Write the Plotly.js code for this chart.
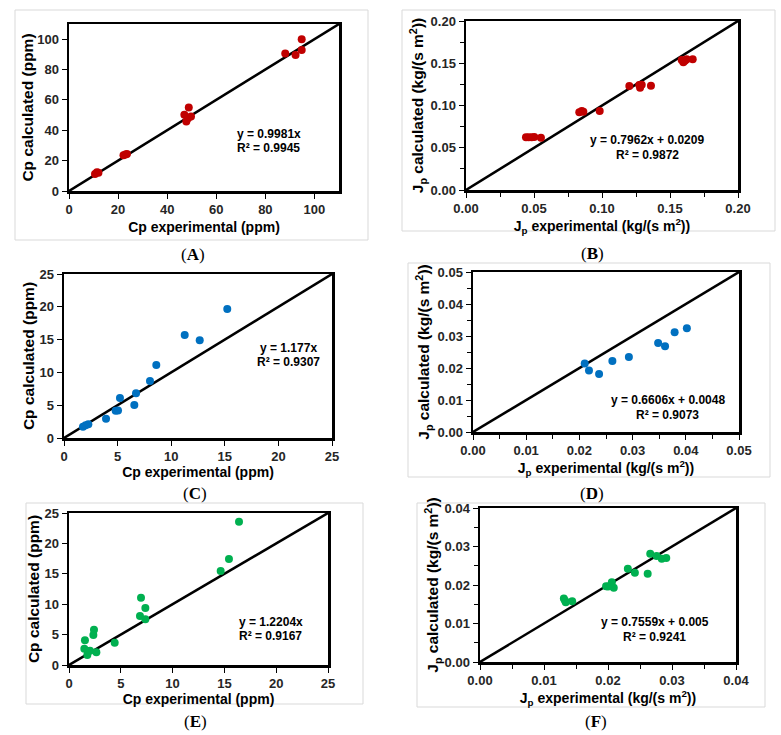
<!DOCTYPE html>
<html>
<head>
<meta charset="utf-8">
<script src="https://cdn.plot.ly/plotly-3.0.1.min.js"></script>
<style>html,body{margin:0;padding:0;background:#fff;}#chart{width:781px;height:735px;}</style>
</head>
<body>
<div id="chart"></div>
<script>
// Panel A: Cp (ppm), red
const aExp = [10.6, 11.4, 12.0, 22.2, 23.0, 23.6, 47.0, 47.8, 48.5, 48.8, 49.7, 88.1, 92.3, 94.8, 94.8];
const aCal = [11.2, 12.3, 12.0, 23.6, 24.0, 24.4, 50.2, 45.8, 48.0, 55.0, 49.1, 90.6, 89.5, 92.8, 100.0];
// Panel B: Jp (kg/(s m2)), red
const bExp = [0.0441, 0.0461, 0.0483, 0.0502, 0.0551, 0.0833, 0.0851, 0.0863, 0.0983, 0.1201, 0.1274, 0.1280, 0.1292, 0.1360, 0.1586, 0.1598, 0.1610, 0.1623, 0.1667];
const bCal = [0.0623, 0.0623, 0.0625, 0.0627, 0.0619, 0.0919, 0.0935, 0.0927, 0.0935, 0.1231, 0.1243, 0.1210, 0.1245, 0.1234, 0.1538, 0.1511, 0.1530, 0.1547, 0.1547];
// Panel C: Cp (ppm), blue
const cExp = [1.77, 2.02, 2.27, 3.92, 4.82, 5.04, 5.22, 6.56, 6.72, 8.02, 8.61, 11.26, 12.66, 15.23];
const cCal = [1.72, 1.93, 2.08, 2.95, 4.16, 4.20, 6.10, 5.03, 6.81, 8.69, 11.13, 15.70, 14.89, 19.66];
// Panel D: Jp (kg/(s m2)), blue
const dExp = [0.0210, 0.0218, 0.0237, 0.0262, 0.0293, 0.0348, 0.0361, 0.0379, 0.0402];
const dCal = [0.0214, 0.0192, 0.0181, 0.0222, 0.0234, 0.0278, 0.0268, 0.0312, 0.0324];
// Panel E: Cp (ppm), green
const eExp = [1.54, 1.48, 1.83, 1.77, 2.03, 2.41, 2.35, 2.64, 4.41, 6.95, 7.37, 6.85, 7.37, 14.64, 15.44, 16.41];
const eCal = [4.06, 2.69, 2.30, 1.64, 2.36, 5.81, 4.93, 2.08, 3.67, 11.07, 9.37, 8.06, 7.51, 15.46, 17.43, 23.57];
// Panel F: Jp (kg/(s m2)), green
const fExp = [0.0131, 0.0133, 0.0134, 0.0144, 0.0197, 0.0200, 0.0206, 0.0209, 0.0231, 0.0242, 0.0262, 0.0266, 0.0276, 0.0284, 0.0291];
const fCal = [0.0165, 0.0159, 0.0155, 0.0158, 0.0197, 0.0196, 0.0207, 0.0193, 0.0242, 0.0232, 0.0229, 0.0281, 0.0275, 0.0268, 0.0270];

const axisMax = [110, 0.20, 25, 0.05, 25, 0.04];
const equations = ["y = 0.9981x", "y = 0.7962x + 0.0209", "y = 1.177x", "y = 0.6606x + 0.0048", "y = 1.2204x", "y = 0.7559x + 0.005"];
const r2Text = ["R² = 0.9945", "R² = 0.9872", "R² = 0.9307", "R² = 0.9073", "R² = 0.9167", "R² = 0.9241"];
const panelLabels = ["A", "B", "C", "D", "E", "F"];
const cpX = "Cp experimental (ppm)", cpY = "Cp calculated (ppm)";
const jpX = "J<sub>p</sub> experimental (kg/(s m<sup>2</sup>))", jpY = "J<sub>p</sub> calculated (kg/(s m<sup>2</sup>))";

const RED = "#C00000", BLUE = "#0070C0", GREEN = "#00B050";
const W = 781, H = 735;
const FONT = "Liberation Sans, Arial, sans-serif";

// plot-area boxes in pixels [left, right, top, bottom]
const boxes = [
  [69, 339, 24, 191],
  [466, 738, 21, 190],
  [64, 332, 274, 438],
  [473, 739, 272, 432],
  [69, 328, 513, 665],
  [480, 736, 508, 662]
];
const panels = [
  {x: aExp, y: aCal, c: RED, dt: 20, minor: null, fmt: "", xt: cpX, yt: cpY},
  {x: bExp, y: bCal, c: RED, dt: 0.05, minor: 0.025, fmt: ".2f", xt: jpX, yt: jpY},
  {x: cExp, y: cCal, c: BLUE, dt: 5, minor: null, fmt: "", xt: cpX, yt: cpY},
  {x: dExp, y: dCal, c: BLUE, dt: 0.01, minor: 0.005, fmt: ".2f", xt: jpX, yt: jpY},
  {x: eExp, y: eCal, c: GREEN, dt: 5, minor: null, fmt: "", xt: cpX, yt: cpY},
  {x: fExp, y: fCal, c: GREEN, dt: 0.01, minor: 0.005, fmt: ".2f", xt: jpX, yt: jpY}
];
// equation anchor positions (data units) and alignment
const eqPos = [
  {x: 67.8, y1: 37.5, y2: 28.3, a: "left"},
  {x: 0.1331, y1: 0.0592, y2: 0.0414, a: "center"},
  {x: 20.9, y1: 13.72, y2: 11.59, a: "center"},
  {x: 0.03665, y1: 0.0100, y2: 0.0053, a: "center"},
  {x: 16.19, y1: 7.07, y2: 4.77, a: "left"},
  {x: 0.02734, y1: 0.01039, y2: 0.0065, a: "center"}
];
const xStand = [6, 0, 2, 5, 1, 3];
const yStand = [0, 3, 1, 4, 1, 2];
const labelPos = [[193, 255], [592, 253], [195, 493], [592, 493], [195, 721], [596, 721]];
const chartBorders = [
  [15, 368, 10, 240], [402, 775, 10, 231], null, [408, 770, 263, 477], [26, 363, 503, 704], [417, 765, 503, 707]
];

const data = [];
const layout = {
  width: W, height: H,
  margin: {l: 0, r: 0, t: 0, b: 0},
  paper_bgcolor: "#fff", plot_bgcolor: "#fff",
  showlegend: false,
  font: {family: FONT, color: "#000"},
  annotations: [], shapes: []
};

panels.forEach((p, i) => {
  const n = i === 0 ? "" : String(i + 1);
  const xa = "x" + n, ya = "y" + n;
  const m = axisMax[i];
  data.push({x: [0, m], y: [0, m], xaxis: xa, yaxis: ya, mode: "lines",
    line: {color: "#000", width: 2.5}, hoverinfo: "skip"});
  data.push({x: p.x, y: p.y, xaxis: xa, yaxis: ya, mode: "markers",
    marker: {color: p.c, size: 8}});
  const b = boxes[i];
  const common = {
    range: [0, m], dtick: p.dt, tick0: 0, showgrid: false, zeroline: false,
    showline: true, linecolor: "#000", linewidth: 2.5, mirror: true,
    ticks: "outside", ticklen: 5, tickwidth: 1, tickcolor: "#000",
    tickfont: {family: FONT, size: 13, weight: 700, color: "#262626"},
    tickformat: p.fmt, fixedrange: true
  };
  if (p.minor) common.minor = {dtick: p.minor, tick0: 0, ticks: "outside", ticklen: 4, tickcolor: "#000", tickwidth: 1, showgrid: false};
  layout["xaxis" + n] = Object.assign({}, common, {
    domain: [b[0] / W, b[1] / W], anchor: ya,
    title: {text: p.xt, font: {family: FONT, size: 14, weight: 700, color: "#000"}, standoff: xStand[i]}
  });
  layout["yaxis" + n] = Object.assign({}, common, {
    domain: [1 - b[3] / H, 1 - b[2] / H], anchor: xa,
    title: {text: p.yt, font: {family: FONT, size: 15.5, weight: 700, color: "#000"}, standoff: yStand[i]}
  });
  const e = eqPos[i];
  layout.annotations.push({xref: xa, yref: ya, x: e.x, y: e.y1, text: equations[i], showarrow: false,
    xanchor: e.a, yanchor: "middle", font: {family: FONT, size: 12, weight: 700, color: "#000"}});
  layout.annotations.push({xref: xa, yref: ya, x: e.x, y: e.y2, text: r2Text[i], showarrow: false,
    xanchor: e.a, yanchor: "middle", font: {family: FONT, size: 12, weight: 700, color: "#000"}});
  const lp = labelPos[i];
  layout.annotations.push({xref: "paper", yref: "paper", x: lp[0] / W, y: 1 - lp[1] / H,
    text: "(<b>" + panelLabels[i] + "</b>)", showarrow: false, xanchor: "center", yanchor: "middle",
    font: {family: "Liberation Serif, Times New Roman, serif", size: 17, color: "#000"}});
  const cb = chartBorders[i];
  if (cb) layout.shapes.push({type: "rect", xref: "paper", yref: "paper", layer: "below",
    x0: cb[0] / W, x1: cb[1] / W, y0: 1 - cb[3] / H, y1: 1 - cb[2] / H,
    line: {color: "#d9d9d9", width: 1}});
});

Plotly.newPlot("chart", data, layout, {displayModeBar: false, staticPlot: true});
</script>
</body>
</html>
